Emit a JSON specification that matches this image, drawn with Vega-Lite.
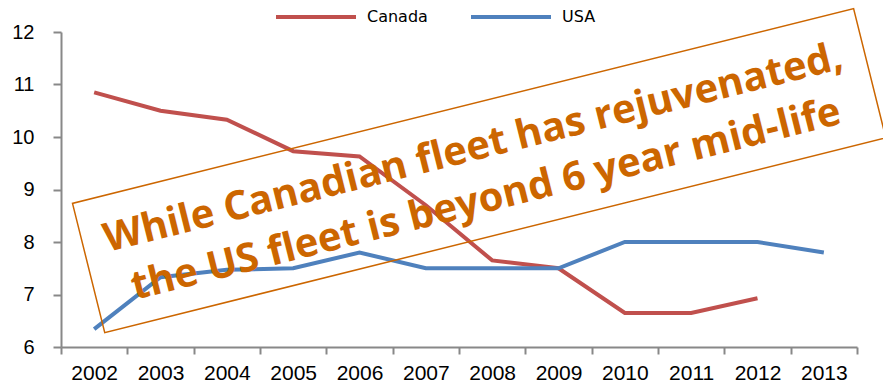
{
  "$schema": "https://vega.github.io/schema/vega-lite/v6.json",
  "width": 796,
  "height": 315,
  "autosize": {"type": "none"},
  "padding": {"left": 61, "top": 32, "right": 26, "bottom": 41},
  "background": "white",
  "config": {"view": {"stroke": null}},
  "datasets": {
    "series": [
      {"year": "2002", "country": "Canada", "age": 10.85},
      {"year": "2003", "country": "Canada", "age": 10.5},
      {"year": "2004", "country": "Canada", "age": 10.33},
      {"year": "2005", "country": "Canada", "age": 9.73},
      {"year": "2006", "country": "Canada", "age": 9.63},
      {"year": "2007", "country": "Canada", "age": 8.7},
      {"year": "2008", "country": "Canada", "age": 7.65},
      {"year": "2009", "country": "Canada", "age": 7.5},
      {"year": "2010", "country": "Canada", "age": 6.65},
      {"year": "2011", "country": "Canada", "age": 6.65},
      {"year": "2012", "country": "Canada", "age": 6.93},
      {"year": "2002", "country": "USA", "age": 6.34},
      {"year": "2003", "country": "USA", "age": 7.33},
      {"year": "2004", "country": "USA", "age": 7.47},
      {"year": "2005", "country": "USA", "age": 7.5},
      {"year": "2006", "country": "USA", "age": 7.8},
      {"year": "2007", "country": "USA", "age": 7.5},
      {"year": "2008", "country": "USA", "age": 7.5},
      {"year": "2009", "country": "USA", "age": 7.5},
      {"year": "2010", "country": "USA", "age": 8.0},
      {"year": "2011", "country": "USA", "age": 8.0},
      {"year": "2012", "country": "USA", "age": 8.0},
      {"year": "2013", "country": "USA", "age": 7.8}
    ],
    "note": [
      {"year": "2008", "age": 9.36, "label": ["While Canadian fleet has rejuvenated,", "the US fleet is beyond 6 year mid-life"]}
    ]
  },
  "layer": [
    {
      "data": {"name": "series"},
      "mark": {"type": "line", "strokeWidth": 4},
      "encoding": {
        "x": {
          "field": "year", "type": "ordinal",
          "scale": {"type": "band", "paddingInner": 0, "paddingOuter": 0},
          "axis": {
            "title": null, "labelAngle": 0, "tickBand": "extent",
            "domainColor": "#888888", "domainWidth": 2,
            "tickColor": "#888888", "tickWidth": 2, "tickSize": 7,
            "labelFont": "Liberation Sans", "labelFontSize": 21, "labelColor": "#000000",
            "labelPadding": 8
          }
        },
        "y": {
          "field": "age", "type": "quantitative",
          "scale": {"domain": [6, 12], "nice": false, "zero": false},
          "axis": {
            "title": null, "values": [6, 7, 8, 9, 10, 11, 12], "grid": false,
            "domainColor": "#888888", "domainWidth": 2,
            "tickColor": "#888888", "tickWidth": 2, "tickSize": 8,
            "labelFont": "Liberation Sans", "labelFontSize": 20, "labelColor": "#000000",
            "labelPadding": 19
          }
        },
        "color": {
          "field": "country", "type": "nominal",
          "scale": {"domain": ["Canada", "USA"], "range": ["#C0504D", "#4F81BD"]},
          "legend": {
            "title": null, "orient": "none", "direction": "horizontal",
            "legendX": 213, "legendY": -57,
            "symbolType": "stroke", "symbolSize": 6400, "symbolStrokeWidth": 4,
            "labelFont": "DejaVu Sans", "labelFontSize": 16, "labelColor": "#000000",
            "labelOffset": 9, "columnPadding": 35
          }
        }
      }
    },
    {
      "data": {"name": "note"},
      "mark": {
        "type": "point",
        "shape": "M-1,-0.1655L1,-0.1655L1,0.1655L-1,0.1655Z",
        "size": 648025, "angle": -14, "filled": false,
        "stroke": "#CC6600", "strokeWidth": 1.5, "opacity": 1, "xOffset": -13
      },
      "encoding": {
        "x": {"field": "year", "type": "ordinal"},
        "y": {"field": "age", "type": "quantitative"}
      }
    },
    {
      "data": {"name": "note"},
      "mark": {
        "type": "text", "angle": -14, "align": "center", "baseline": "middle",
        "font": "Open Sans", "fontWeight": "bold", "fontSize": 40, "lineHeight": 53,
        "color": "#CC6600", "dx": -13, "dy": -26
      },
      "encoding": {
        "x": {"field": "year", "type": "ordinal"},
        "y": {"field": "age", "type": "quantitative"},
        "text": {"field": "label"}
      }
    }
  ]
}
